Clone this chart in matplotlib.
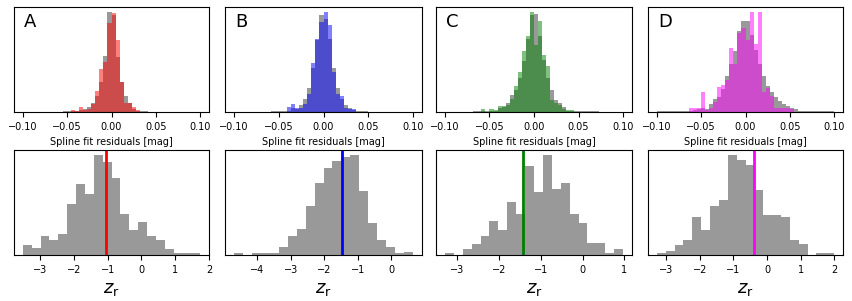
import matplotlib.pyplot as plt
import numpy as np

plt.rcParams['font.family'] = 'DejaVu Sans'
plt.rcParams['font.size'] = 7

panels = ['A', 'B', 'C', 'D']
colors = ['red', 'blue', 'green', 'magenta']

# spline fit residuals: 44 bins over [-0.1, 0.1]; each list starts at bin k_lo (bin 0 starts at 0.0)
resid_edges = np.linspace(-0.1, 0.1, 45)

gray_A_lo, gray_A = -12, [3, 3, 3, 3, 6, 9, 15, 27, 48, 90, 168, 300, 290, 165, 90, 48, 27, 9, 3, 3, 3]
col_A_lo, col_A = -12, [0, 0, 6, 3, 15, 6, 9, 24, 63, 129, 150, 266, 297, 215, 90, 27, 27, 15, 6, 0, 0]

gray_B_lo, gray_B = -13, [3, 3, 3, 3, 3, 12, 9, 21, 39, 72, 132, 216, 291, 280, 221, 132, 72, 39, 21, 12, 6, 3, 3, 3]
col_B_lo, col_B = -13, [0, 0, 0, 0, 15, 24, 12, 12, 24, 54, 147, 221, 271, 301, 261, 120, 54, 48, 12, 9, 9, 0, 0, 0]

gray_C_lo, gray_C = -15, [3, 3, 3, 3, 3, 3, 12, 15, 27, 51, 65, 102, 153, 221, 291, 296, 230, 156, 102, 66,
                          37, 28, 16, 3, 3, 3, 3, 3, 3, 3, 3]
col_C_lo, col_C = -15, [0, 0, 9, 0, 9, 6, 18, 18, 20, 38, 78, 120, 183, 228, 301, 201, 273, 173, 138, 37,
                        28, 20, 10, 6, 6, 0, 0, 0, 0, 0, 0]

gray_D_lo, gray_D = -22, [3, 3, 3, 3, 3, 3, 3, 3, 3, 6, 9, 12, 9, 24, 40, 45, 70, 108, 144, 183, 243, 273,
                          273, 231, 186, 144, 108, 78, 59, 45, 33, 24, 18, 12, 8, 3, 3, 3, 3, 3, 3, 3, 3, 3]
col_D_lo, col_D = -14, [12, 12, 12, 60, 6, 12, 30, 74, 82, 96, 193, 144, 237, 253, 217, 301, 204, 301,
                        61, 72, 48, 13, 13, 13, 13, 9]

# z_r histograms: 20 bins between lo and hi, plus marked value
zr_A_range, zr_A = (-3.52, 1.74), [29, 22, 58, 46, 64, 154, 214, 184, 301, 281, 232, 124, 76, 100, 58, 46, 19, 7, 7, 7]
zr_B_range, zr_B = (-4.70, 0.65), [7, 0, 7, 7, 7, 25, 58, 79, 147, 217, 262, 284, 295, 301, 193, 96, 45, 25, 7, 10]
zr_C_range, zr_C = (-3.30, 0.97), [7, 0, 19, 34, 58, 103, 76, 159, 124, 268, 190, 301, 199, 217, 124, 97, 37, 37, 7, 19]
zr_D_range, zr_D = (-3.28, 2.00), [7, 13, 31, 46, 115, 76, 148, 166, 301, 285, 271, 196, 121, 121, 115, 46, 34, 0, 7, 7]
zr_mark = [-1.04, -1.48, -1.42, -0.38]

gray_top = [(gray_A_lo, gray_A), (gray_B_lo, gray_B), (gray_C_lo, gray_C), (gray_D_lo, gray_D)]
col_top = [(col_A_lo, col_A), (col_B_lo, col_B), (col_C_lo, col_C), (col_D_lo, col_D)]
zr_ranges = [zr_A_range, zr_B_range, zr_C_range, zr_D_range]
zr_counts = [zr_A, zr_B, zr_C, zr_D]


def full(k_lo, vals):
    out = np.zeros(44)
    out[k_lo + 22:k_lo + 22 + len(vals)] = vals
    return out


fig = plt.figure(figsize=(8.52, 3.01), dpi=100)
lefts = [14, 225, 436, 648]
widths = [195, 197, 196, 195]

for i in range(4):
    l = lefts[i] / 852
    w = widths[i] / 852
    ax = fig.add_axes([l, 1 - 112 / 301, w, 105 / 301])
    g = full(*gray_top[i])
    c = full(*col_top[i])
    ax.hist(resid_edges[:-1], bins=resid_edges, weights=g, color='#999999', histtype='stepfilled')
    ax.hist(resid_edges[:-1], bins=resid_edges, weights=c, color=colors[i], alpha=0.5, histtype='stepfilled')
    ax.set_xlim(-0.11, 0.11)
    ax.set_ylim(0, 1.05 * max(g.max(), c.max()))
    ax.set_yticks([])
    ax.set_xlabel('Spline fit residuals [mag]', fontsize=7)
    ax.tick_params(labelsize=7)
    ax.text(0.05, 0.86, panels[i], transform=ax.transAxes, fontsize=13, va='center')

    ax2 = fig.add_axes([l, 1 - 255 / 301, w, 105 / 301])
    lo, hi = zr_ranges[i]
    edges = np.linspace(lo, hi, 21)
    ax2.hist(edges[:-1], bins=edges, weights=zr_counts[i], color='#999999', histtype='stepfilled')
    ax2.axvline(zr_mark[i], color=colors[i], lw=2)
    ax2.set_ylim(0, 1.05 * max(zr_counts[i]))
    ax2.set_yticks([])
    ax2.set_xlabel(r'$z_\mathrm{r}$', fontsize=13)
    ax2.tick_params(labelsize=7)

fig.savefig('out.png', dpi=100)
